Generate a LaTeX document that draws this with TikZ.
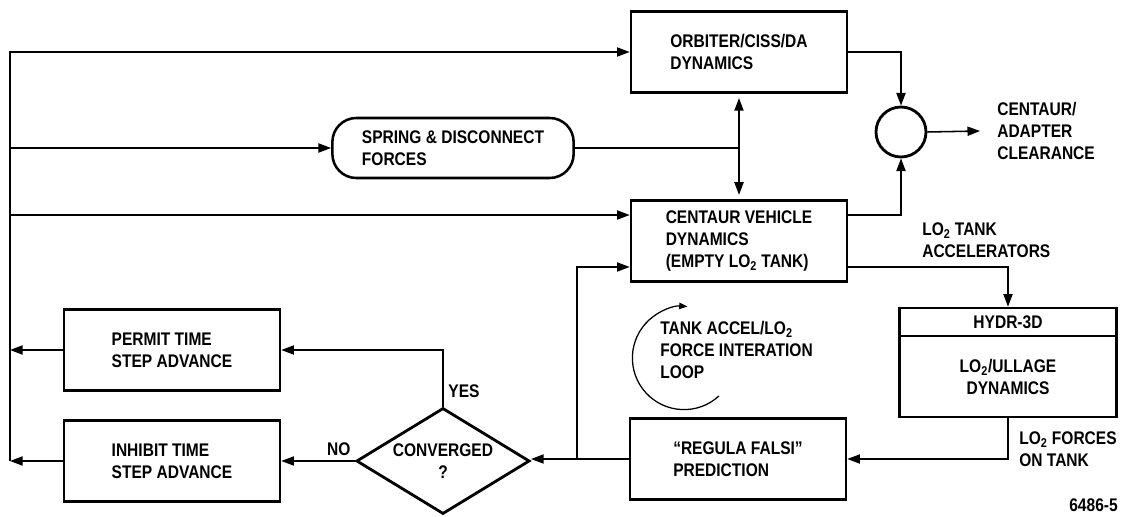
\documentclass[tikz,border=0pt]{standalone}
\usepackage{fontspec}
\setmainfont{Liberation Sans}[FakeStretch=0.85]
\usetikzlibrary{arrows.meta, positioning, calc, shapes.geometric}
\tikzset{
  bx/.style={draw, line width=1.8pt, minimum width=#1, minimum height=2.03cm,
             align=left},
  bxS/.style={draw, line width=1.8pt, rounded corners=0.6cm, minimum width=#1,
              minimum height=1.5cm, align=left},
  dia/.style={draw, diamond, aspect=1.63, line width=2pt, minimum width=4.33cm,
              minimum height=2.65cm, inner sep=0pt, align=center},
  lbl/.style={anchor=west, align=left, inner sep=0pt},
  arr/.style={-{Triangle[length=9pt, width=6.5pt]}, line width=1.1pt},
  ln/.style={line width=1.1pt},
}

\begin{document}
\begin{tikzpicture}[x=0.025cm, y=-0.025cm,
    every node/.style={font=\fontsize{13}{15.5}\selectfont\bfseries}]
    \useasboundingbox (0,0) rectangle (1121,517);

    \node[bx=5.4cm]  (orbiter) at (739, 52)  {ORBITER/CISS/DA\\DYNAMICS};
    \node[bxS=6.03cm] (spring) at (453,148)  {SPRING \& DISCONNECT\\FORCES};
    \node[bx=5.4cm]  (centaur) at (739,241)  {CENTAUR VEHICLE\\DYNAMICS\\(EMPTY LO\textsubscript{2} TANK)};
    \node[draw, circle, line width=2pt, minimum size=1.25cm] (sum) at (901,132) {};
    \node[lbl] (clear) at (997,131) {CENTAUR/\\ADAPTER\\CLEARANCE};

    \node[bx=5.42cm, minimum height=0.7cm, align=center] (hydrhead) at (1008,322) {HYDR-3D};
    \node[bx=5.42cm, align=center, below=-1.8pt of hydrhead] (hydr) {LO\textsubscript{2}/ULLAGE\\DYNAMICS};
    \node[lbl] (accel)  at (922,240) {LO\textsubscript{2} TANK\\ACCELERATORS};
    \node[lbl] (forces) at (1019,449) {LO\textsubscript{2} FORCES\\ON TANK};

    \node[bx=5.4cm] (regula)  at (738,459) {“REGULA FALSI”\\PREDICTION};
    \node[dia]      (conv)    at (443,461) {CONVERGED\\?};
    \node[bx=5.4cm] (permit)  at (172,350) {PERMIT TIME\\STEP ADVANCE};
    \node[bx=5.4cm] (inhibit) at (172,461) {INHIBIT TIME\\STEP ADVANCE};

    \coordinate (loopc) at (684,358);
    \node[lbl] (loop) at (660,350) {TANK ACCEL/LO\textsubscript{2}\\FORCE INTERATION\\LOOP};
    \node[anchor=east, inner sep=0pt] (fig) at (1118,505) {6486-5};

    \coordinate (bustop) at (10,52);
    \coordinate (busbot) at (10,461);
    \coordinate (jn)     at (577,459);

    \draw[arr] (busbot) -- (bustop) -- (orbiter.west);
    \draw[arr] (bustop |- spring.west) -- (spring.west);
    \draw[arr] (bustop |- 0,215) -- ($(centaur.west)+(0,-26)$);
    \draw[ln]  (spring.east) -- (spring.east -| orbiter.south);
    \draw[{Triangle[length=9pt, width=6.5pt]}-{Triangle[length=9pt, width=6.5pt]}, line width=1.1pt]
          ([yshift=-3pt]orbiter.south) -- ([yshift=3pt]centaur.north);

    \draw[arr] (orbiter.east) -| (sum.north);
    \draw[arr] ($(centaur.east)+(0,-26)$) -| (sum.south);
    \draw[arr] (sum.east) -- ([xshift=-12pt]clear.west);
    \draw[arr] ($(centaur.east)+(0,26)$) -| (hydrhead.north);
    \draw[arr] (hydr.south) |- (regula.east);

    \draw[arr] (regula.west) -- (regula.west -| conv.east);
    \draw[arr] (jn) |- ($(centaur.west)+(0,26)$);
    \draw[arr] (conv.west) -- node[above, pos=0.22] {NO} (inhibit.east);
    \draw[arr] (conv.north) |- node[right, pos=0.14] {YES} (permit.east);
    \draw[arr] (permit.west) -- (permit.west -| bustop);
    \draw[arr] (inhibit.west) -- (busbot);

    \draw[-{Triangle[length=6pt, width=4.5pt]}, line width=0.9pt]
          ([shift={(-47.5:1.29cm)}]loopc) arc[start angle=-47.5, end angle=-274, radius=1.29cm];
\end{tikzpicture}
\end{document}
